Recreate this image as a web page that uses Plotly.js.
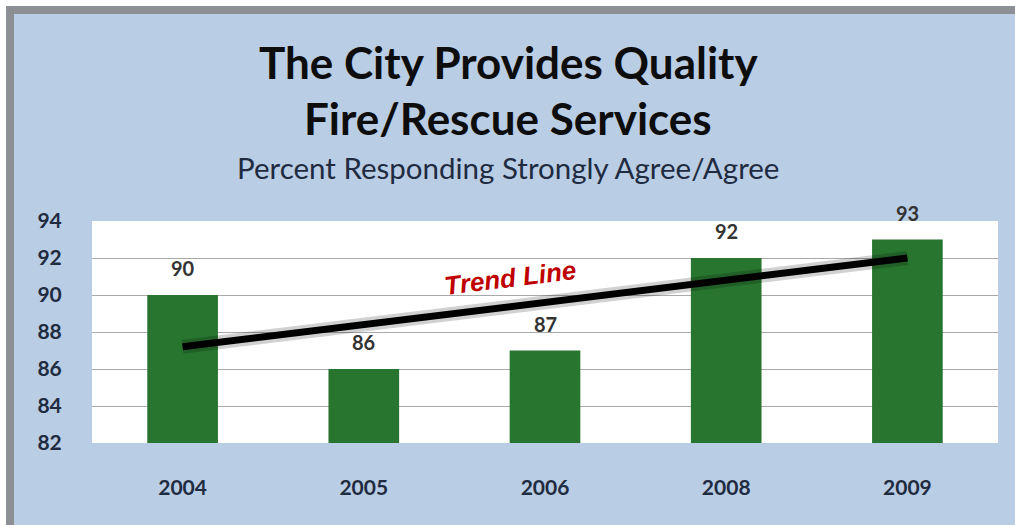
<!DOCTYPE html>
<html>
<head>
<meta charset="utf-8">
<script src="https://cdn.plot.ly/plotly-3.0.1.min.js"></script>
<style>
html, body { margin: 0; padding: 0; background: #ffffff; width: 1015px; height: 525px; overflow: hidden; }
#frame { position: absolute; left: 6px; top: 6px; width: 1009px; height: 519px;
  border-top: 8px solid #8c8f94; border-left: 8px solid #8c8f94; box-sizing: border-box; background: #b9cde5; }
#chart { position: absolute; left: 0; top: 0; width: 1001px; height: 511px; }
</style>
</head>
<body>
<div id="frame"><div id="chart"></div></div>
<script>
const categories = ['2004', '2005', '2006', '2008', '2009'];
const values = [90, 86, 87, 92, 93];
const trendCategories = ['2004', '2009'];
const trendValues = [87.2, 92.0];
const yTicks = [82, 84, 86, 88, 90, 92, 94];

const titleLine1 = 'The City Provides Quality';
const titleLine2 = 'Fire/Rescue Services';
const subtitle = 'Percent Responding Strongly Agree/Agree';
const trendLabel = 'Trend Line';

const tickFont = { family: 'Lato, "Open Sans", sans-serif', size: 21, color: '#1f2b40', weight: 'bold' };

const traces = [
  {
    type: 'bar', x: categories, y: values,
    marker: { color: '#28752f' },
    hoverinfo: 'x+y'
  },
  {
    type: 'scatter', mode: 'lines', x: trendCategories, y: trendValues,
    line: { color: 'rgba(0,0,0,0.18)', width: 14 }, hoverinfo: 'skip'
  },
  {
    type: 'scatter', mode: 'lines', x: trendCategories, y: trendValues,
    line: { color: '#000000', width: 7 }, hoverinfo: 'skip'
  }
];

// data labels: category index on the category axis
const annotations = categories.map((c, i) => ({
  x: i, y: values[i], xref: 'x', yref: 'y',
  text: String(values[i]), showarrow: false,
  yanchor: 'bottom', yshift: 13,
  font: { family: 'Lato, "Open Sans", sans-serif', size: 20, color: '#333333', weight: 'bold' }
}));

annotations.push(
  { xref: 'paper', yref: 'paper', x: 0.4595, y: 1.716, text: '<b>' + titleLine1 + '</b>', showarrow: false,
    xanchor: 'center', yanchor: 'middle', font: { family: 'Lato, sans-serif', size: 44, color: '#0d0d0d' } },
  { xref: 'paper', yref: 'paper', x: 0.4595, y: 1.464, text: '<b>' + titleLine2 + '</b>', showarrow: false,
    xanchor: 'center', yanchor: 'middle', font: { family: 'Lato, sans-serif', size: 44, color: '#0d0d0d' } },
  { xref: 'paper', yref: 'paper', x: 0.4595, y: 1.239, text: subtitle, showarrow: false,
    xanchor: 'center', yanchor: 'middle', font: { family: 'Lato, sans-serif', size: 29.5, color: '#1f2b40' } },
  { xref: 'paper', yref: 'paper', x: 0.461, y: 0.743, text: '<b><i>' + trendLabel + '</i></b>', showarrow: false,
    xanchor: 'center', yanchor: 'middle', textangle: -7,
    font: { family: '"Liberation Sans", Arial, sans-serif', size: 26, color: '#c00000' } }
);

const layout = {
  width: 1001, height: 511,
  paper_bgcolor: '#b9cde5', plot_bgcolor: '#ffffff',
  margin: { l: 78, r: 17, t: 207, b: 82 },
  showlegend: false,
  bargap: 0.61,
  xaxis: {
    type: 'category', range: [-0.5, 4.5], autorange: false,
    showgrid: false, zeroline: false, showline: false,
    ticks: 'outside', ticklen: 26, tickcolor: 'rgba(0,0,0,0)',
    tickfont: tickFont
  },
  yaxis: {
    range: [82, 94], autorange: false, tickvals: yTicks, ticktext: yTicks.map(String),
    showgrid: true, gridcolor: '#a9a9a9', gridwidth: 1,
    zeroline: false, showline: false,
    ticks: 'outside', ticklen: 25, tickcolor: 'rgba(0,0,0,0)',
    tickfont: tickFont
  },
  annotations: annotations
};

Plotly.newPlot('chart', traces, layout, { displayModeBar: false, staticPlot: true });
</script>
</body>
</html>
